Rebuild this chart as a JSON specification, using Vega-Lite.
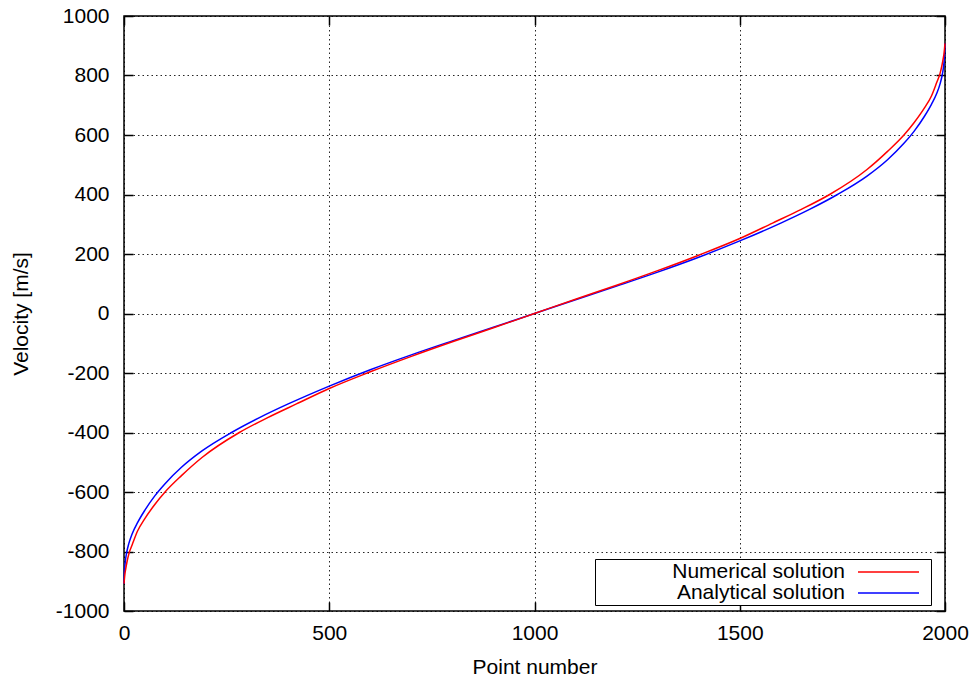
{
  "$schema": "https://vega.github.io/schema/vega-lite/v6.json",
  "width": 821,
  "height": 595,
  "autosize": {"type": "none"},
  "padding": {"left": 124, "top": 16, "right": 30, "bottom": 68},
  "background": "white",
  "config": {
    "font": "Liberation Sans",
    "view": {"stroke": "black", "strokeWidth": 1.5},
    "axis": {
      "domain": false,
      "tickColor": "black",
      "tickSize": -9,
      "tickWidth": 1.5,
      "labelFontSize": 21,
      "labelColor": "black",
      "titleFontSize": 21,
      "titleFontWeight": "normal",
      "titleColor": "black",
      "gridColor": "black",
      "gridDash": [1.5, 3],
      "gridWidth": 1,
      "gridOpacity": 0.85,
      "labelExpr": "'' + datum.value"
    }
  },
  "datasets": {
    "curves": [
      {"n": 0, "v": -908, "series": "Analytical solution"},
      {"n": 1, "v": -870, "series": "Analytical solution"},
      {"n": 2, "v": -850, "series": "Analytical solution"},
      {"n": 4, "v": -825, "series": "Analytical solution"},
      {"n": 7, "v": -800, "series": "Analytical solution"},
      {"n": 12, "v": -772, "series": "Analytical solution"},
      {"n": 20, "v": -740, "series": "Analytical solution"},
      {"n": 33, "v": -703, "series": "Analytical solution"},
      {"n": 50, "v": -663, "series": "Analytical solution"},
      {"n": 75, "v": -613, "series": "Analytical solution"},
      {"n": 100, "v": -572, "series": "Analytical solution"},
      {"n": 140, "v": -517, "series": "Analytical solution"},
      {"n": 190, "v": -462, "series": "Analytical solution"},
      {"n": 262, "v": -400, "series": "Analytical solution"},
      {"n": 330, "v": -350, "series": "Analytical solution"},
      {"n": 400, "v": -304, "series": "Analytical solution"},
      {"n": 500, "v": -244, "series": "Analytical solution"},
      {"n": 600, "v": -189, "series": "Analytical solution"},
      {"n": 700, "v": -139, "series": "Analytical solution"},
      {"n": 800, "v": -92, "series": "Analytical solution"},
      {"n": 900, "v": -46, "series": "Analytical solution"},
      {"n": 1000, "v": 0, "series": "Analytical solution"},
      {"n": 1100, "v": 46, "series": "Analytical solution"},
      {"n": 1200, "v": 92, "series": "Analytical solution"},
      {"n": 1300, "v": 139, "series": "Analytical solution"},
      {"n": 1400, "v": 189, "series": "Analytical solution"},
      {"n": 1500, "v": 244, "series": "Analytical solution"},
      {"n": 1600, "v": 304, "series": "Analytical solution"},
      {"n": 1670, "v": 350, "series": "Analytical solution"},
      {"n": 1738, "v": 400, "series": "Analytical solution"},
      {"n": 1810, "v": 462, "series": "Analytical solution"},
      {"n": 1860, "v": 517, "series": "Analytical solution"},
      {"n": 1900, "v": 572, "series": "Analytical solution"},
      {"n": 1925, "v": 613, "series": "Analytical solution"},
      {"n": 1950, "v": 663, "series": "Analytical solution"},
      {"n": 1967, "v": 703, "series": "Analytical solution"},
      {"n": 1980, "v": 740, "series": "Analytical solution"},
      {"n": 1988, "v": 772, "series": "Analytical solution"},
      {"n": 1993, "v": 800, "series": "Analytical solution"},
      {"n": 1996, "v": 825, "series": "Analytical solution"},
      {"n": 1998, "v": 850, "series": "Analytical solution"},
      {"n": 1999, "v": 870, "series": "Analytical solution"},
      {"n": 2000, "v": 908, "series": "Analytical solution"},
      {"n": 0, "v": -908, "series": "Numerical solution"},
      {"n": 1, "v": -893, "series": "Numerical solution"},
      {"n": 2, "v": -878, "series": "Numerical solution"},
      {"n": 4, "v": -860, "series": "Numerical solution"},
      {"n": 7, "v": -837, "series": "Numerical solution"},
      {"n": 12, "v": -807, "series": "Numerical solution"},
      {"n": 20, "v": -777, "series": "Numerical solution"},
      {"n": 33, "v": -731, "series": "Numerical solution"},
      {"n": 50, "v": -691, "series": "Numerical solution"},
      {"n": 75, "v": -642, "series": "Numerical solution"},
      {"n": 100, "v": -600, "series": "Numerical solution"},
      {"n": 140, "v": -545, "series": "Numerical solution"},
      {"n": 190, "v": -484, "series": "Numerical solution"},
      {"n": 281, "v": -400, "series": "Numerical solution"},
      {"n": 350, "v": -350, "series": "Numerical solution"},
      {"n": 420, "v": -304, "series": "Numerical solution"},
      {"n": 500, "v": -252, "series": "Numerical solution"},
      {"n": 600, "v": -196, "series": "Numerical solution"},
      {"n": 700, "v": -144, "series": "Numerical solution"},
      {"n": 800, "v": -95, "series": "Numerical solution"},
      {"n": 900, "v": -48, "series": "Numerical solution"},
      {"n": 1000, "v": 0, "series": "Numerical solution"},
      {"n": 1100, "v": 48, "series": "Numerical solution"},
      {"n": 1200, "v": 95, "series": "Numerical solution"},
      {"n": 1300, "v": 144, "series": "Numerical solution"},
      {"n": 1400, "v": 196, "series": "Numerical solution"},
      {"n": 1500, "v": 252, "series": "Numerical solution"},
      {"n": 1580, "v": 304, "series": "Numerical solution"},
      {"n": 1650, "v": 350, "series": "Numerical solution"},
      {"n": 1719, "v": 400, "series": "Numerical solution"},
      {"n": 1810, "v": 484, "series": "Numerical solution"},
      {"n": 1860, "v": 545, "series": "Numerical solution"},
      {"n": 1900, "v": 600, "series": "Numerical solution"},
      {"n": 1925, "v": 642, "series": "Numerical solution"},
      {"n": 1950, "v": 691, "series": "Numerical solution"},
      {"n": 1967, "v": 731, "series": "Numerical solution"},
      {"n": 1980, "v": 777, "series": "Numerical solution"},
      {"n": 1988, "v": 807, "series": "Numerical solution"},
      {"n": 1993, "v": 837, "series": "Numerical solution"},
      {"n": 1996, "v": 860, "series": "Numerical solution"},
      {"n": 1998, "v": 878, "series": "Numerical solution"},
      {"n": 1999, "v": 893, "series": "Numerical solution"},
      {"n": 2000, "v": 908, "series": "Numerical solution"}
    ]
  },
  "data": {"name": "curves"},
  "resolve": {"scale": {"x": "independent", "y": "independent"}},
  "layer": [
    {
      "mark": {"type": "line", "interpolate": "monotone", "strokeWidth": 1.5},
      "encoding": {
        "x": {
          "field": "n", "type": "quantitative",
          "scale": {"domain": [0, 2000], "nice": false, "zero": false},
          "axis": {"title": "Point number", "values": [0, 500, 1000, 1500, 2000], "grid": true, "labelPadding": 20, "titlePadding": 13, "labelFlush": false}
        },
        "y": {
          "field": "v", "type": "quantitative",
          "scale": {"domain": [-1000, 1000], "nice": false, "zero": false},
          "axis": {"title": "Velocity [m/s]", "values": [-1000, -800, -600, -400, -200, 0, 200, 400, 600, 800, 1000], "grid": true, "labelPadding": 24, "titlePadding": 24, "labelFlush": false}
        },
        "color": {
          "field": "series", "type": "nominal",
          "scale": {"domain": ["Numerical solution", "Analytical solution"], "range": ["#ff0000", "#0000ff"]},
          "legend": {
            "orient": "none", "legendX": 471, "legendY": 543, "title": null,
            "symbolType": "M-3.05,0H3.05M3.75,0", "symbolSize": 400, "symbolStrokeWidth": 1.5,
            "symbolOffset": 280.5,
            "labelFontSize": 21, "labelAlign": "right", "labelOffset": -54.5, "labelLimit": 500,
            "strokeColor": "black", "fillColor": "white", "padding": 2, "rowPadding": 0
          }
        }
      }
    },
    {
      "mark": {"type": "point", "opacity": 0},
      "encoding": {
        "x": {
          "field": "n", "type": "quantitative",
          "scale": {"domain": [0, 2000], "nice": false, "zero": false},
          "axis": {"orient": "top", "title": null, "labels": false, "grid": false, "values": [0, 500, 1000, 1500, 2000]}
        },
        "y": {
          "field": "v", "type": "quantitative",
          "scale": {"domain": [-1000, 1000], "nice": false, "zero": false},
          "axis": {"orient": "right", "title": null, "labels": false, "grid": false, "values": [-1000, -800, -600, -400, -200, 0, 200, 400, 600, 800, 1000]}
        }
      }
    }
  ]
}
